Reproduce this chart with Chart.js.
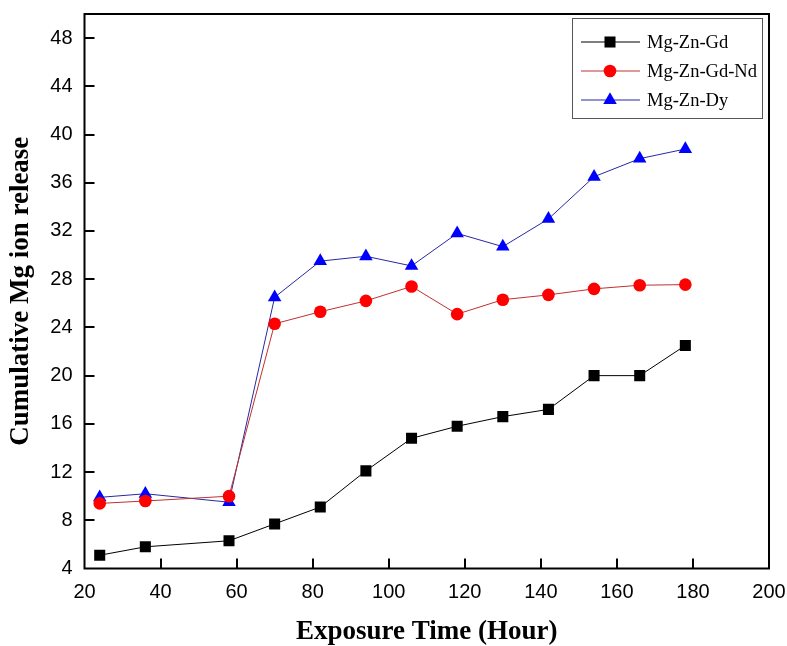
<!DOCTYPE html>
<html>
<head>
<meta charset="utf-8">
<script src="https://cdn.jsdelivr.net/npm/chart.js@4"></script>
<style>
  html, body { margin: 0; padding: 0; background: #fff; }
  #wrap { width: 787px; height: 646px; }
</style>
</head>
<body>
<div id="wrap"><canvas id="chart" width="787" height="646"></canvas></div>
<script>
// exposure time, hours
const hours = [24, 36, 58, 70, 82, 94, 106, 118, 130, 142, 154, 166, 178];
// cumulative Mg ion release per alloy
const mgZnGd   = [5.1, 5.8, 6.3, 7.7, 9.1, 12.1, 14.8, 15.8, 16.6, 17.2, 20.0, 20.0, 22.5];
const mgZnGdNd = [9.4, 9.6, 10.0, 24.3, 25.3, 26.2, 27.4, 25.1, 26.3, 26.7, 27.2, 27.5, 27.55];
const mgZnDy   = [9.9, 10.2, 9.5, 26.5, 29.5, 29.9, 29.1, 31.8, 30.7, 33.0, 36.5, 38.0, 38.8];
const seriesNames = ["Mg-Zn-Gd", "Mg-Zn-Gd-Nd", "Mg-Zn-Dy"];

const toXY = arr => arr.map((v, i) => ({x: hours[i], y: v}));

// frame, inward ticks and the boxed legend
const framePlugin = {
  id: "frame",
  afterDraw(chart) {
    const ctx = chart.ctx;
    const a = chart.chartArea;
    const xs = chart.scales.x, ys = chart.scales.y;
    ctx.save();
    ctx.strokeStyle = "#000";
    ctx.lineWidth = 2;
    ctx.strokeRect(a.left, a.top, a.right - a.left, a.bottom - a.top);
    ctx.beginPath();
    xs.ticks.forEach(t => {
      const px = Math.round(xs.getPixelForValue(t.value));
      if (px <= a.left + 1 || px >= a.right - 1) return;
      ctx.moveTo(px, a.bottom);
      ctx.lineTo(px, a.bottom - 10);
    });
    ys.ticks.forEach(t => {
      const py = Math.round(ys.getPixelForValue(t.value));
      if (py >= a.bottom - 1 || py <= a.top + 1) return;
      ctx.moveTo(a.left, py);
      ctx.lineTo(a.left + 10, py);
    });
    ctx.stroke();

    // legend
    const bx = 572, by = 18, bw = 190, bh = 100;
    ctx.fillStyle = "#fff";
    ctx.fillRect(bx, by, bw, bh);
    ctx.lineWidth = 1;
    ctx.strokeStyle = "#555";
    ctx.strokeRect(bx + 0.5, by + 0.5, bw, bh);
    ctx.font = "18.5px 'Liberation Serif', 'Times New Roman', serif";
    ctx.textBaseline = "middle";
    ctx.textAlign = "left";
    chart.data.datasets.forEach((ds, i) => {
      const y = by + 24 + i * 29;
      ctx.strokeStyle = ds.borderColor;
      ctx.lineWidth = 1;
      ctx.beginPath();
      ctx.moveTo(581, y);
      ctx.lineTo(640, y);
      ctx.stroke();
      ctx.fillStyle = ds.pointBackgroundColor;
      ctx.strokeStyle = ds.pointBackgroundColor;
      Chart.helpers.drawPoint(ctx, {pointStyle: ds.pointStyle, radius: ds.pointRadius, rotation: 0, borderWidth: 0}, 610, y);
      ctx.fillStyle = "#000";
      ctx.fillText(ds.label, 647, y + 1);
    });
    ctx.restore();
  }
};

const tickFont = {family: "'Liberation Sans', Arial, sans-serif", size: 20};
const titleFont = {family: "'Liberation Serif', 'Times New Roman', serif", size: 27, weight: "bold", lineHeight: 1};

new Chart(document.getElementById("chart"), {
  type: "line",
  data: {
    datasets: [
      {label: seriesNames[0], data: toXY(mgZnGd), borderColor: "#000000", borderWidth: 1,
       pointStyle: "rect", pointRadius: 7.8, pointBackgroundColor: "#000000", pointBorderWidth: 0},
      {label: seriesNames[1], data: toXY(mgZnGdNd), borderColor: "#c03030", borderWidth: 1,
       pointStyle: "circle", pointRadius: 6.3, pointBackgroundColor: "#ff0000", pointBorderWidth: 0},
      {label: seriesNames[2], data: toXY(mgZnDy), borderColor: "#2828a0", borderWidth: 1,
       pointStyle: "triangle", pointRadius: 7.8, pointBackgroundColor: "#0000ff", pointBorderWidth: 0}
    ]
  },
  options: {
    responsive: false,
    animation: false,
    layout: {padding: {top: 14, right: 18, left: 0, bottom: 0}},
    plugins: {legend: {display: false}, tooltip: {enabled: false}},
    scales: {
      x: {
        type: "linear", min: 20, max: 200,
        grid: {display: false, drawTicks: false}, border: {display: false},
        ticks: {stepSize: 20, font: tickFont, color: "#000", padding: 12, maxRotation: 0},
        title: {display: true, text: "Exposure Time (Hour)", font: titleFont, color: "#000", padding: {top: 0, bottom: 0}},
        afterFit(scale) { scale.height = 77.5; scale.paddingLeft = 0; scale.paddingRight = 0; }
      },
      y: {
        type: "linear", min: 4, max: 50,
        grid: {display: false, drawTicks: false}, border: {display: false},
        ticks: {stepSize: 4, font: tickFont, color: "#000", padding: 12},
        afterBuildTicks(scale) { scale.ticks = scale.ticks.filter(t => t.value <= 48); },
        title: {display: true, text: "Cumulative Mg ion release", font: titleFont, color: "#000", padding: {top: 8, bottom: 0}},
        afterFit(scale) { scale.width = 84.5; scale.paddingTop = 0; scale.paddingBottom = 0; }
      }
    }
  },
  plugins: [framePlugin]
});
</script>
</body>
</html>
